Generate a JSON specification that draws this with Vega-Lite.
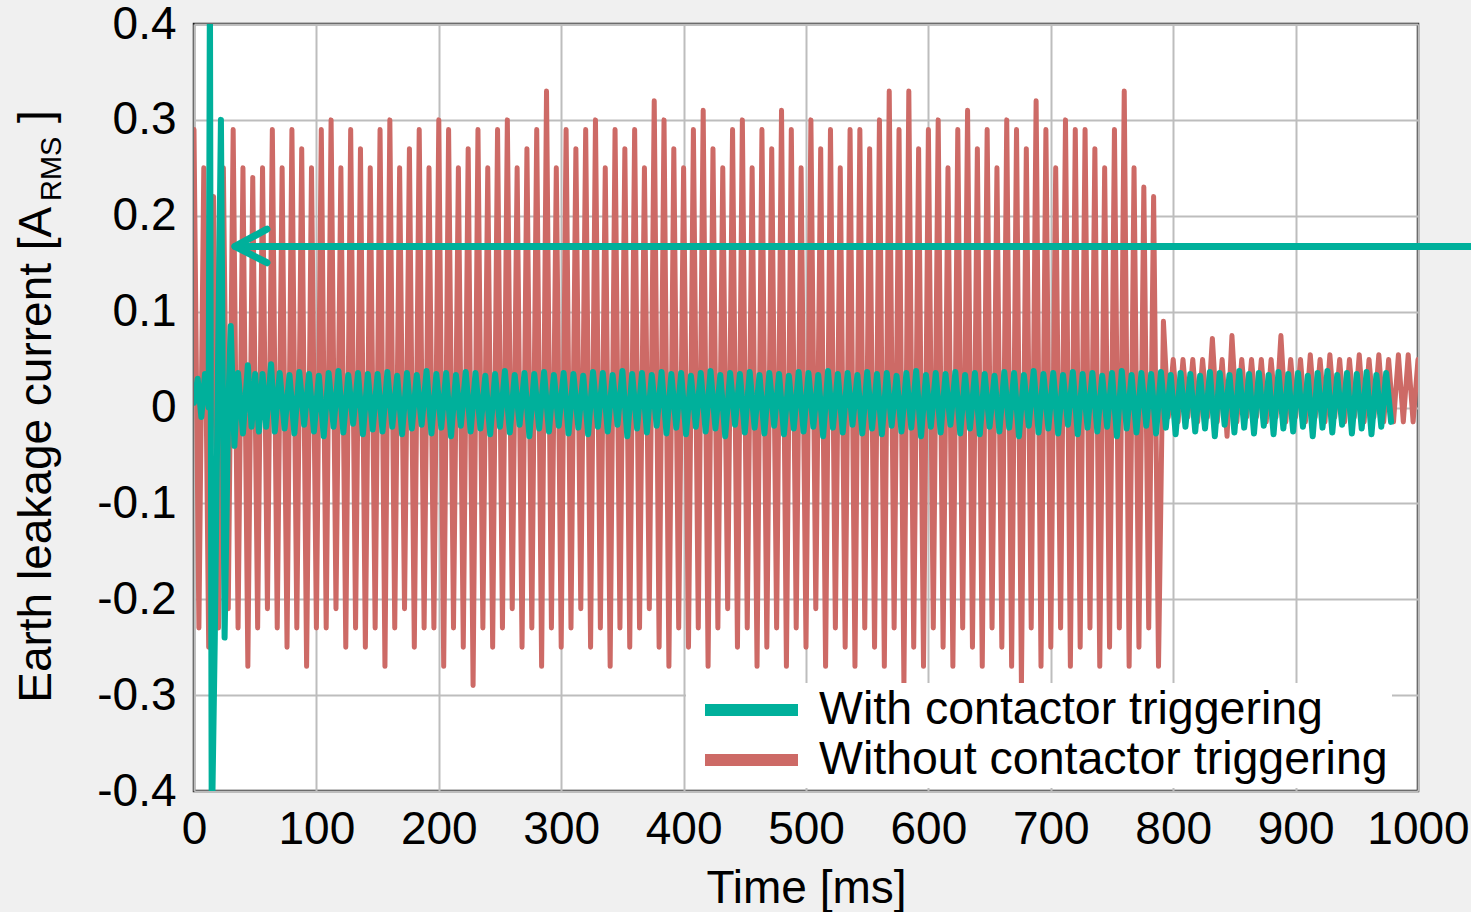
{
"$schema":"https://vega.github.io/schema/vega-lite/v6.json",
"width":1224,"height":767,
"autosize":{"type":"none"},
"padding":{"left":194,"top":24,"right":53,"bottom":121},
"background":"#f0f0f0",
"config":{
"view":{"fill":"white","stroke":"#1a1a1a","strokeWidth":2.5},
"font":"Liberation Sans",
"axis":{"grid":true,"gridColor":"#bdbdbd","gridWidth":2,"ticks":false,"domain":false,"labelFlush":false,"labelFont":"Liberation Sans","labelFontSize":46,"labelColor":"#000","titleFont":"Liberation Sans","titleFontSize":46,"titleFontWeight":"normal","titleColor":"#000"}
},
"datasets":{
"red":[
{"t":0,"v":0.29},{"t":4,"v":-0.23},{"t":8,"v":0.25},{"t":12,"v":-0.25},{"t":16,"v":0.22},{"t":20,"v":-0.23},{"t":24,"v":0.25},{"t":28,"v":-0.21},{"t":32,"v":0.29},{"t":36,"v":-0.23},
{"t":40,"v":0.25},{"t":44,"v":-0.27},{"t":48,"v":0.24},{"t":52,"v":-0.23},{"t":56,"v":0.25},{"t":60,"v":-0.21},{"t":64,"v":0.29},{"t":68,"v":-0.23},{"t":72,"v":0.25},{"t":76,"v":-0.25},
{"t":80,"v":0.29},{"t":84,"v":-0.23},{"t":88,"v":0.27},{"t":92,"v":-0.27},{"t":96,"v":0.25},{"t":100,"v":-0.23},{"t":104,"v":0.29},{"t":108,"v":-0.23},{"t":112,"v":0.30},{"t":116,"v":-0.21},
{"t":120,"v":0.25},{"t":124,"v":-0.25},{"t":128,"v":0.29},{"t":132,"v":-0.23},{"t":136,"v":0.27},{"t":140,"v":-0.25},{"t":144,"v":0.25},{"t":148,"v":-0.23},{"t":152,"v":0.29},{"t":156,"v":-0.27},
{"t":160,"v":0.30},{"t":164,"v":-0.23},{"t":168,"v":0.25},{"t":172,"v":-0.21},{"t":176,"v":0.27},{"t":180,"v":-0.25},{"t":184,"v":0.29},{"t":188,"v":-0.23},{"t":192,"v":0.25},{"t":196,"v":-0.23},
{"t":200,"v":0.30},{"t":204,"v":-0.27},{"t":208,"v":0.29},{"t":212,"v":-0.23},{"t":216,"v":0.25},{"t":220,"v":-0.25},{"t":224,"v":0.27},{"t":228,"v":-0.29},{"t":232,"v":0.29},{"t":236,"v":-0.23},
{"t":240,"v":0.25},{"t":244,"v":-0.25},{"t":248,"v":0.29},{"t":252,"v":-0.23},{"t":256,"v":0.30},{"t":260,"v":-0.21},{"t":264,"v":0.25},{"t":268,"v":-0.25},{"t":272,"v":0.27},{"t":276,"v":-0.23},
{"t":280,"v":0.29},{"t":284,"v":-0.27},{"t":288,"v":0.33},{"t":292,"v":-0.23},{"t":296,"v":0.25},{"t":300,"v":-0.25},{"t":304,"v":0.29},{"t":308,"v":-0.23},{"t":312,"v":0.27},{"t":316,"v":-0.21},
{"t":320,"v":0.29},{"t":324,"v":-0.25},{"t":328,"v":0.30},{"t":332,"v":-0.23},{"t":336,"v":0.25},{"t":340,"v":-0.27},{"t":344,"v":0.29},{"t":348,"v":-0.23},{"t":352,"v":0.27},{"t":356,"v":-0.25},
{"t":360,"v":0.29},{"t":364,"v":-0.23},{"t":368,"v":0.25},{"t":372,"v":-0.21},{"t":376,"v":0.32},{"t":380,"v":-0.25},{"t":384,"v":0.30},{"t":388,"v":-0.27},{"t":392,"v":0.27},{"t":396,"v":-0.23},
{"t":400,"v":0.25},{"t":404,"v":-0.25},{"t":408,"v":0.29},{"t":412,"v":-0.23},{"t":416,"v":0.31},{"t":420,"v":-0.27},{"t":424,"v":0.27},{"t":428,"v":-0.23},{"t":432,"v":0.25},{"t":436,"v":-0.21},
{"t":440,"v":0.29},{"t":444,"v":-0.25},{"t":448,"v":0.30},{"t":452,"v":-0.23},{"t":456,"v":0.25},{"t":460,"v":-0.27},{"t":464,"v":0.29},{"t":468,"v":-0.25},{"t":472,"v":0.27},{"t":476,"v":-0.23},
{"t":480,"v":0.31},{"t":484,"v":-0.27},{"t":488,"v":0.29},{"t":492,"v":-0.23},{"t":496,"v":0.25},{"t":500,"v":-0.25},{"t":504,"v":0.30},{"t":508,"v":-0.21},{"t":512,"v":0.27},{"t":516,"v":-0.27},
{"t":520,"v":0.29},{"t":524,"v":-0.23},{"t":528,"v":0.25},{"t":532,"v":-0.25},{"t":536,"v":0.29},{"t":540,"v":-0.27},{"t":544,"v":0.29},{"t":548,"v":-0.23},{"t":552,"v":0.27},{"t":556,"v":-0.25},
{"t":560,"v":0.30},{"t":564,"v":-0.27},{"t":568,"v":0.33},{"t":572,"v":-0.23},{"t":576,"v":0.29},{"t":580,"v":-0.29},{"t":584,"v":0.33},{"t":588,"v":-0.25},{"t":592,"v":0.27},{"t":596,"v":-0.27},
{"t":600,"v":0.29},{"t":604,"v":-0.23},{"t":608,"v":0.30},{"t":612,"v":-0.25},{"t":616,"v":0.25},{"t":620,"v":-0.27},{"t":624,"v":0.29},{"t":628,"v":-0.23},{"t":632,"v":0.31},{"t":636,"v":-0.25},
{"t":640,"v":0.27},{"t":644,"v":-0.27},{"t":648,"v":0.29},{"t":652,"v":-0.23},{"t":656,"v":0.25},{"t":660,"v":-0.25},{"t":664,"v":0.30},{"t":668,"v":-0.27},{"t":672,"v":0.29},{"t":676,"v":-0.29},
{"t":680,"v":0.27},{"t":684,"v":-0.23},{"t":688,"v":0.32},{"t":692,"v":-0.27},{"t":696,"v":0.29},{"t":700,"v":-0.25},{"t":704,"v":0.25},{"t":708,"v":-0.23},{"t":712,"v":0.30},{"t":716,"v":-0.27},
{"t":720,"v":0.29},{"t":724,"v":-0.25},{"t":728,"v":0.29},{"t":732,"v":-0.23},{"t":736,"v":0.27},{"t":740,"v":-0.27},{"t":744,"v":0.25},{"t":748,"v":-0.25},{"t":752,"v":0.29},{"t":756,"v":-0.23},
{"t":760,"v":0.33},{"t":764,"v":-0.27},{"t":768,"v":0.25},{"t":772,"v":-0.25},{"t":776,"v":0.23},{"t":780,"v":-0.23},{"t":784,"v":0.22},{"t":788,"v":-0.27},
{"t":792,"v":0.09},{"t":796,"v":-0.01},{"t":800,"v":0.05},{"t":804,"v":-0.015},{"t":808,"v":0.05},{"t":812,"v":-0.01},{"t":816,"v":0.05},{"t":820,"v":-0.015},{"t":824,"v":0.05},{"t":828,"v":-0.01},
{"t":832,"v":0.072},{"t":836,"v":-0.015},{"t":840,"v":0.05},{"t":844,"v":-0.03},{"t":848,"v":0.075},{"t":852,"v":-0.015},{"t":856,"v":0.05},{"t":860,"v":-0.01},{"t":864,"v":0.05},{"t":868,"v":-0.01},
{"t":872,"v":0.05},{"t":876,"v":-0.015},{"t":880,"v":0.05},{"t":884,"v":-0.01},{"t":888,"v":0.075},{"t":892,"v":-0.015},{"t":896,"v":0.05},{"t":900,"v":-0.01},{"t":904,"v":0.05},{"t":908,"v":-0.015},
{"t":912,"v":0.055},{"t":916,"v":-0.01},{"t":920,"v":0.05},{"t":924,"v":-0.015},{"t":928,"v":0.055},{"t":932,"v":-0.01},{"t":936,"v":0.05},{"t":940,"v":-0.015},{"t":944,"v":0.05},{"t":948,"v":-0.01},
{"t":952,"v":0.055},{"t":956,"v":-0.015},{"t":960,"v":0.05},{"t":964,"v":-0.01},{"t":968,"v":0.055},{"t":972,"v":-0.015},{"t":976,"v":0.05},{"t":980,"v":-0.015},{"t":984,"v":0.055},{"t":988,"v":-0.015},
{"t":992,"v":0.055},{"t":996,"v":-0.015},{"t":1000,"v":0.05}
],
"teal":[
{"t":0,"v":0.005},{"t":3,"v":0.03},{"t":6,"v":-0.01},{"t":9,"v":0.035},{"t":12,"v":0.0},{"t":13,"v":0.45},{"t":14.5,"v":-0.45},{"t":17,"v":-0.24},{"t":22,"v":0.3},{"t":25,"v":-0.24},
{"t":28,"v":0.0},{"t":30,"v":0.085},{"t":33,"v":-0.04},{"t":36,"v":0.036},{"t":40,"v":-0.027},{"t":44,"v":0.044},{"t":47,"v":-0.02},{"t":50,"v":0.035},{"t":53,"v":-0.025},{"t":56,"v":0.035},
{"t":59,"v":-0.02},{"t":63,"v":0.045},{"t":66,"v":-0.025},
{"t":70,"v":0.036},{"t":74,"v":-0.022},{"t":78,"v":0.034},{"t":82,"v":-0.027},{"t":86,"v":0.037},{"t":90,"v":-0.018},{"t":94,"v":0.035},{"t":98,"v":-0.025},{"t":102,"v":0.033},{"t":106,"v":-0.03},
{"t":110,"v":0.036},{"t":114,"v":-0.02},{"t":118,"v":0.038},{"t":122,"v":-0.026},{"t":126,"v":0.034},{"t":130,"v":-0.017},{"t":134,"v":0.036},{"t":138,"v":-0.028},{"t":142,"v":0.035},{"t":146,"v":-0.023},
{"t":150,"v":0.035},{"t":154,"v":-0.025},{"t":158,"v":0.037},{"t":162,"v":-0.02},{"t":166,"v":0.033},{"t":170,"v":-0.028},{"t":174,"v":0.036},{"t":178,"v":-0.022},{"t":182,"v":0.034},{"t":186,"v":-0.018},
{"t":190,"v":0.038},{"t":194,"v":-0.027},{"t":198,"v":0.035},{"t":202,"v":-0.021},{"t":206,"v":0.036},{"t":210,"v":-0.03},{"t":214,"v":0.034},{"t":218,"v":-0.019},{"t":222,"v":0.037},{"t":226,"v":-0.025},
{"t":230,"v":0.036},{"t":234,"v":-0.022},{"t":238,"v":0.033},{"t":242,"v":-0.028},{"t":246,"v":0.035},{"t":250,"v":-0.02},{"t":254,"v":0.038},{"t":258,"v":-0.026},{"t":262,"v":0.034},{"t":266,"v":-0.018},
{"t":270,"v":0.036},{"t":274,"v":-0.03},{"t":278,"v":0.035},{"t":282,"v":-0.022},{"t":286,"v":0.037},{"t":290,"v":-0.025},{"t":294,"v":0.034},{"t":298,"v":-0.019},{"t":302,"v":0.036},{"t":306,"v":-0.027},
{"t":310,"v":0.035},{"t":314,"v":-0.021},{"t":318,"v":0.033},{"t":322,"v":-0.028},{"t":326,"v":0.037},{"t":330,"v":-0.02},{"t":334,"v":0.036},{"t":338,"v":-0.025},{"t":342,"v":0.034},{"t":346,"v":-0.018},
{"t":350,"v":0.038},{"t":354,"v":-0.03},{"t":358,"v":0.035},{"t":362,"v":-0.022},{"t":366,"v":0.036},{"t":370,"v":-0.026},{"t":374,"v":0.034},{"t":378,"v":-0.019},{"t":382,"v":0.037},{"t":386,"v":-0.027},
{"t":390,"v":0.035},{"t":394,"v":-0.021},{"t":398,"v":0.036},{"t":402,"v":-0.028},{"t":406,"v":0.033},{"t":410,"v":-0.02},{"t":414,"v":0.036},{"t":418,"v":-0.025},{"t":422,"v":0.038},{"t":426,"v":-0.022},
{"t":430,"v":0.034},{"t":434,"v":-0.03},{"t":438,"v":0.036},{"t":442,"v":-0.018},{"t":446,"v":0.035},{"t":450,"v":-0.026},{"t":454,"v":0.037},{"t":458,"v":-0.021},{"t":462,"v":0.034},{"t":466,"v":-0.027},
{"t":470,"v":0.036},{"t":474,"v":-0.019},{"t":478,"v":0.035},{"t":482,"v":-0.028},{"t":486,"v":0.033},{"t":490,"v":-0.022},{"t":494,"v":0.037},{"t":498,"v":-0.025},{"t":502,"v":0.036},{"t":506,"v":-0.02},
{"t":510,"v":0.034},{"t":514,"v":-0.03},{"t":518,"v":0.038},{"t":522,"v":-0.021},{"t":526,"v":0.035},{"t":530,"v":-0.026},{"t":534,"v":0.036},{"t":538,"v":-0.018},{"t":542,"v":0.034},{"t":546,"v":-0.027},
{"t":550,"v":0.037},{"t":554,"v":-0.022},{"t":558,"v":0.035},{"t":562,"v":-0.028},{"t":566,"v":0.036},{"t":570,"v":-0.019},{"t":574,"v":0.033},{"t":578,"v":-0.025},{"t":582,"v":0.036},{"t":586,"v":-0.021},
{"t":590,"v":0.038},{"t":594,"v":-0.03},{"t":598,"v":0.034},{"t":602,"v":-0.02},{"t":606,"v":0.036},{"t":610,"v":-0.026},{"t":614,"v":0.035},{"t":618,"v":-0.018},{"t":622,"v":0.037},{"t":626,"v":-0.027},
{"t":630,"v":0.034},{"t":634,"v":-0.022},{"t":638,"v":0.036},{"t":642,"v":-0.028},{"t":646,"v":0.035},{"t":650,"v":-0.02},{"t":654,"v":0.033},{"t":658,"v":-0.025},{"t":662,"v":0.037},{"t":666,"v":-0.021},
{"t":670,"v":0.036},{"t":674,"v":-0.03},{"t":678,"v":0.034},{"t":682,"v":-0.019},{"t":686,"v":0.038},{"t":690,"v":-0.026},{"t":694,"v":0.035},{"t":698,"v":-0.022},{"t":702,"v":0.036},{"t":706,"v":-0.027},
{"t":710,"v":0.034},{"t":714,"v":-0.018},{"t":718,"v":0.037},{"t":722,"v":-0.028},{"t":726,"v":0.035},{"t":730,"v":-0.021},{"t":734,"v":0.036},{"t":738,"v":-0.025},{"t":742,"v":0.033},{"t":746,"v":-0.02},
{"t":750,"v":0.036},{"t":754,"v":-0.03},{"t":758,"v":0.038},{"t":762,"v":-0.022},{"t":766,"v":0.034},{"t":770,"v":-0.026},{"t":774,"v":0.036},{"t":778,"v":-0.019},{"t":782,"v":0.035},{"t":786,"v":-0.027},
{"t":790,"v":0.037},{"t":794,"v":-0.021},{"t":798,"v":0.034},{"t":802,"v":-0.028},{"t":806,"v":0.036},{"t":810,"v":-0.02},{"t":814,"v":0.035},{"t":818,"v":-0.025},{"t":822,"v":0.033},{"t":826,"v":-0.022},
{"t":830,"v":0.037},{"t":834,"v":-0.03},{"t":838,"v":0.036},{"t":842,"v":-0.018},{"t":846,"v":0.034},{"t":850,"v":-0.026},{"t":854,"v":0.038},{"t":858,"v":-0.021},{"t":862,"v":0.035},{"t":866,"v":-0.027},
{"t":870,"v":0.036},{"t":874,"v":-0.019},{"t":878,"v":0.034},{"t":882,"v":-0.028},{"t":886,"v":0.037},{"t":890,"v":-0.022},{"t":894,"v":0.035},{"t":898,"v":-0.025},{"t":902,"v":0.036},{"t":906,"v":-0.02},
{"t":910,"v":0.033},{"t":914,"v":-0.03},{"t":918,"v":0.036},{"t":922,"v":-0.021},{"t":926,"v":0.038},{"t":930,"v":-0.026},{"t":934,"v":0.034},{"t":938,"v":-0.018},{"t":942,"v":0.036},{"t":946,"v":-0.027},
{"t":950,"v":0.035},{"t":954,"v":-0.022},{"t":958,"v":0.037},{"t":962,"v":-0.028},{"t":966,"v":0.034},{"t":970,"v":-0.02},{"t":974,"v":0.036},{"t":978,"v":-0.015}
],
"arrow":[
{"x":1050,"y":0.168,"p":"shaft","o":0},{"x":33.5,"y":0.168,"p":"shaft","o":1},
{"x":59.6,"y":0.186,"p":"head","o":0},{"x":33.5,"y":0.168,"p":"head","o":1},{"x":59.6,"y":0.151,"p":"head","o":2}
]
},
"layer":[
{"data":{"name":"red"},
"mark":{"type":"line","strokeWidth":5,"strokeJoin":"round","strokeCap":"round","clip":true},
"encoding":{
"x":{"field":"t","type":"quantitative","scale":{"domain":[0,1000],"nice":false},"title":"Time [ms]","axis":{"values":[0,100,200,300,400,500,600,700,800,900,1000],"format":"d","labelPadding":16,"titlePadding":14}},
"y":{"field":"v","type":"quantitative","scale":{"domain":[-0.4,0.4],"nice":false},"title":null,"axis":{"values":[-0.4,-0.3,-0.2,-0.1,0,0.1,0.2,0.3,0.4],"labelPadding":18,"labelExpr":"replace(format(datum.value,'.1~f'),'\u2212','-')"}},
"color":{"datum":"Without contactor triggering","scale":{"domain":["With contactor triggering","Without contactor triggering"],"range":["#00b09b","#cd6a66"]},
"legend":{"title":null,"orient":"none","legendX":492,"legendY":659,"fillColor":"white","padding":4,"symbolType":"stroke","symbolSize":8649,"symbolStrokeWidth":12,"clipHeight":46,"rowPadding":3,"symbolOffset":9,"labelOffset":15,"labelFontSize":46.5,"labelFont":"Liberation Sans","labelColor":"#000","labelLimit":1000}}
}},
{"data":{"name":"teal"},
"mark":{"type":"line","strokeWidth":6,"strokeJoin":"round","strokeCap":"round","clip":true},
"encoding":{
"x":{"field":"t","type":"quantitative","scale":{"domain":[0,1000],"nice":false},"title":"Time [ms]"},
"y":{"field":"v","type":"quantitative","scale":{"domain":[-0.4,0.4],"nice":false},"title":null},
"color":{"datum":"With contactor triggering"}
}},
{"data":{"name":"arrow"},
"mark":{"type":"line","color":"#00b09b","strokeWidth":7,"strokeJoin":"round","strokeCap":"round","clip":false},
"encoding":{
"x":{"field":"x","type":"quantitative","scale":{"domain":[0,1000],"nice":false},"title":"Time [ms]"},
"y":{"field":"y","type":"quantitative","scale":{"domain":[-0.4,0.4],"nice":false},"title":null},
"detail":{"field":"p"},
"order":{"field":"o"}
}},
{"data":{"values":[{}]},
"mark":{"type":"text","text":"Earth leakage current [A","angle":270,"align":"left","baseline":"alphabetic","fontSize":46,"font":"Liberation Sans","color":"#000"},
"encoding":{
"x":{"datum":-116.5,"type":"quantitative","scale":{"domain":[0,1000],"nice":false},"title":"Time [ms]"},
"y":{"datum":-0.308,"type":"quantitative","scale":{"domain":[-0.4,0.4],"nice":false},"title":null}
}},
{"data":{"values":[{}]},
"mark":{"type":"text","text":"RMS","angle":270,"align":"left","baseline":"alphabetic","fontSize":29,"font":"Liberation Sans","color":"#000"},
"encoding":{
"x":{"datum":-109,"type":"quantitative","scale":{"domain":[0,1000],"nice":false},"title":"Time [ms]"},
"y":{"datum":0.2154,"type":"quantitative","scale":{"domain":[-0.4,0.4],"nice":false},"title":null}
}},
{"data":{"values":[{}]},
"mark":{"type":"text","text":"]","angle":270,"align":"right","baseline":"alphabetic","fontSize":46,"font":"Liberation Sans","color":"#000"},
"encoding":{
"x":{"datum":-116.5,"type":"quantitative","scale":{"domain":[0,1000],"nice":false},"title":"Time [ms]"},
"y":{"datum":0.31,"type":"quantitative","scale":{"domain":[-0.4,0.4],"nice":false},"title":null}
}}
]
}
